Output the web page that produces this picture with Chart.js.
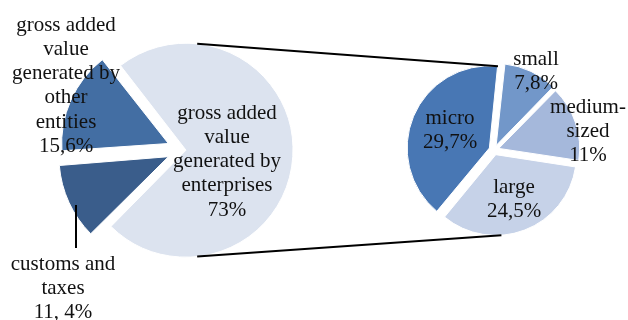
<!DOCTYPE html>
<html>
<head>
<meta charset="utf-8">
<script src="https://cdn.jsdelivr.net/npm/chart.js@4.4.1/dist/chart.umd.min.js"></script>
<style>
    html, body { margin: 0; padding: 0; background: #fff; }
    #wrap { position: relative; width: 628px; height: 320px; }
    #wrap canvas { position: absolute; left: 0; top: 0; }
</style>
</head>
<body>
<div id="wrap">
    <canvas id="main-pie" width="628" height="320"></canvas>
    <canvas id="split-pie" width="628" height="320"></canvas>
</div>
<script>
// Pie-of-pie: gross value added, enterprises share split by size class

// main pie (clockwise from the rotation angle)
const MAIN_NAMES = [
    ['gross added', 'value', 'generated by', 'enterprises'],
    ['customs and', 'taxes'],
    ['gross added', 'value', 'generated by', 'other', 'entities'],
];
const MAIN_VALUES = [73, 11.4, 15.6];
const MAIN_PCT = ['73%', '11, 4%', '15,6%'];

// secondary pie: enterprises by size
const SPLIT_NAMES = [['micro'], ['small'], ['medium-', 'sized'], ['large']];
const SPLIT_VALUES = [29.7, 7.8, 11, 24.5];
const SPLIT_PCT = ['29,7%', '7,8%', '11%', '24,5%'];

const MAIN_COLORS = ['#dce3ef', '#3a5d8b', '#436ea3'];
const SPLIT_COLORS = ['#4877b4', '#7297c9', '#a5b8db', '#c6d2e8'];

const FONT = '21px "Liberation Serif", "Times New Roman", serif';
const LINE_H = 24.3;

// first-line label centres, relative to each pie centre
const MAIN_ANCHORS = [[44, -37], [-120, 114], [-117, -125]];
const SPLIT_ANCHORS = [[-44, -32], [42, -91], [94, -43], [20, 37]];

// point on an arc's outer edge, angle in degrees clockwise from top
function edgePoint(arc, deg) {
    const off = (arc.options.offset || 0) / 4;
    const half = (arc.startAngle + arc.endAngle) / 2;
    const circ = arc.endAngle - arc.startAngle;
    const r = arc.outerRadius + off * (1 - Math.sin(Math.min(Math.PI, circ)));
    const a = (deg - 90) * Math.PI / 180;
    return [
        arc.x + Math.cos(half) * off + Math.cos(a) * r,
        arc.y + Math.sin(half) * off + Math.sin(a) * r,
    ];
}

function labelPlugin(names, pct, anchors, leader) {
    return {
        id: 'sliceLabels',
        afterDatasetsDraw(chart) {
            const arc = chart.getDatasetMeta(0).data[0];
            const ctx = chart.ctx;
            ctx.save();
            ctx.font = FONT;
            ctx.fillStyle = '#111';
            ctx.textAlign = 'center';
            ctx.textBaseline = 'middle';
            names.forEach((lines, i) => {
                const [dx, dy] = anchors[i];
                lines.concat([pct[i]]).forEach((t, k) => {
                    ctx.fillText(t, arc.x + dx, arc.y + dy + k * LINE_H);
                });
            });
            if (leader) {
                ctx.strokeStyle = '#000';
                ctx.lineWidth = 2;
                ctx.beginPath();
                ctx.moveTo(arc.x + leader[0], arc.y + leader[1]);
                ctx.lineTo(arc.x + leader[0], arc.y + leader[2]);
                ctx.stroke();
            }
            ctx.restore();
        },
    };
}

function pieOptions(rotation, radius, padding) {
    return {
        responsive: false,
        animation: false,
        rotation,
        radius,
        layout: { padding },
        plugins: {
            legend: { display: false },
            tooltip: { enabled: false },
        },
        events: [],
    };
}

const mainChart = new Chart(document.getElementById('main-pie'), {
    type: 'pie',
    data: {
        labels: MAIN_NAMES.map(n => n.join(' ')),
        datasets: [{
            data: MAIN_VALUES,
            backgroundColor: MAIN_COLORS,
            borderColor: '#fff',
            borderWidth: 1,
            offset: [12, 64, 64],
        }],
    },
    options: pieOptions(-38, 104, { left: 0, right: 262, top: 0, bottom: 20 }),
    plugins: [labelPlugin(MAIN_NAMES, MAIN_PCT, MAIN_ANCHORS, [-107, 55, 98])],
});

// connector lines between the enterprises slice and the secondary pie
const connectors = {
    id: 'connectors',
    afterDatasetsDraw(chart) {
        const big = mainChart.getDatasetMeta(0).data[0];
        const arcs = chart.getDatasetMeta(0).data;
        const pairs = [
            [edgePoint(big, 6), edgePoint(arcs[0], 6)],
            [edgePoint(big, 174), edgePoint(arcs[3], 176)],
        ];
        const ctx = chart.ctx;
        ctx.save();
        ctx.strokeStyle = '#000';
        ctx.lineWidth = 2;
        pairs.forEach(([a, b]) => {
            ctx.beginPath();
            ctx.moveTo(a[0], a[1]);
            ctx.lineTo(b[0], b[1]);
            ctx.stroke();
        });
        ctx.restore();
    },
};

new Chart(document.getElementById('split-pie'), {
    type: 'pie',
    data: {
        labels: SPLIT_NAMES.map(n => n.join(' ')),
        datasets: [{
            data: SPLIT_VALUES,
            backgroundColor: SPLIT_COLORS,
            borderColor: '#fff',
            borderWidth: 1,
            offset: 20,
        }],
    },
    options: pieOptions(219.5, 80, { left: 360, right: 0, top: 0, bottom: 20 }),
    plugins: [connectors, labelPlugin(SPLIT_NAMES, SPLIT_PCT, SPLIT_ANCHORS, null)],
});
</script>
</body>
</html>
